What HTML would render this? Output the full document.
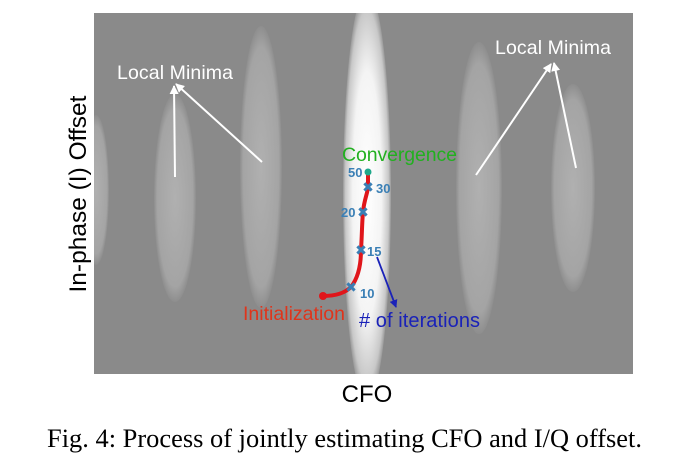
<!DOCTYPE html>
<html><head><style>
body{margin:0;background:#fff;width:700px;height:469px;overflow:hidden}
</style></head><body>
<svg width="700" height="469" viewBox="0 0 700 469" xmlns="http://www.w3.org/2000/svg" style="position:absolute;left:0;top:0">
<defs>
<radialGradient id="g" cx="50%" cy="50%" r="50%">
<stop offset="0" stop-color="#b0b0b0"/><stop offset="0.85" stop-color="#a4a4a4"/><stop offset="1" stop-color="#8e8e8e"/>
</radialGradient>
<radialGradient id="w" cx="50%" cy="50%" r="50%">
<stop offset="0" stop-color="#ffffff"/><stop offset="0.6" stop-color="#f4f4f4"/><stop offset="0.9" stop-color="#c8c8c8"/><stop offset="1" stop-color="#999"/>
</radialGradient>
<clipPath id="c"><rect x="94" y="13" width="539" height="361"/></clipPath>
<marker id="aw" markerWidth="9" markerHeight="9" refX="8" refY="4.5" orient="auto" markerUnits="userSpaceOnUse"><path d="M0,0 L9,4.5 L0,9 z" fill="#fff"/></marker>
<marker id="ab" markerWidth="8" markerHeight="8" refX="7" refY="4" orient="auto" markerUnits="userSpaceOnUse"><path d="M0,0 L8,4 L0,8 z" fill="#1a22b8"/></marker>
</defs>
<rect x="94" y="13" width="539" height="361" fill="#8a8a8a"/>
<g clip-path="url(#c)">
<ellipse cx="96" cy="190" rx="13" ry="75" fill="url(#g)"/>
<ellipse cx="175" cy="198" rx="21" ry="104" fill="url(#g)"/>
<ellipse cx="261" cy="167" rx="21" ry="141" fill="url(#g)"/>
<ellipse cx="367" cy="195" rx="24" ry="205" fill="url(#w)"/>
<ellipse cx="479" cy="188" rx="23" ry="146" fill="url(#g)"/>
<ellipse cx="573" cy="188" rx="22" ry="104" fill="url(#g)"/>
</g>
<g font-family="Liberation Sans, sans-serif">
<text x="117" y="79" font-size="19.5" fill="#fff" textLength="116">Local Minima</text>
<text x="495" y="54" font-size="19.5" fill="#fff" textLength="116">Local Minima</text>
<g stroke="#fff" stroke-width="2" fill="none">
<line x1="175" y1="177" x2="174" y2="86" marker-end="url(#aw)"/>
<line x1="262" y1="162" x2="176" y2="84" marker-end="url(#aw)"/>
<line x1="476" y1="175" x2="551" y2="64" marker-end="url(#aw)"/>
<line x1="576" y1="168" x2="554" y2="63" marker-end="url(#aw)"/>
</g>
<path d="M323,296 C335,296 345,293 351,287 C358,278 361,265 361,250 C362,235 362,222 363,212 C364,200 368,192 368,187 L368,172" stroke="#e0161b" stroke-width="4" fill="none"/>
<circle cx="323" cy="296" r="4" fill="#e0161b"/>
<circle cx="368" cy="172" r="3.5" fill="#1fa88a"/>
<g fill="#3a7fb5" font-size="13" font-weight="bold">
<text x="368" y="192" font-family="DejaVu Sans,sans-serif" text-anchor="middle" font-size="14">✖</text>
<text x="363" y="217" font-family="DejaVu Sans,sans-serif" text-anchor="middle" font-size="14">✖</text>
<text x="361" y="255" font-family="DejaVu Sans,sans-serif" text-anchor="middle" font-size="14">✖</text>
<text x="351" y="292" font-family="DejaVu Sans,sans-serif" text-anchor="middle" font-size="14">✖</text>
<text x="348" y="177">50</text>
<text x="376" y="193">30</text>
<text x="341" y="217">20</text>
<text x="367" y="256">15</text>
<text x="360" y="298">10</text>
</g>
<text x="342" y="161" font-size="19.5" fill="#22b020" textLength="115">Convergence</text>
<line x1="377" y1="257" x2="396" y2="307" stroke="#1a22b8" stroke-width="1.8" marker-end="url(#ab)"/>
<text x="359" y="327" font-size="20" fill="#1a22b8" textLength="121"># of iterations</text>
<text x="243" y="320" font-size="19.5" fill="#e0341b" textLength="102">Initialization</text>
<text x="367" y="402" font-size="24" text-anchor="middle" fill="#000">CFO</text>
<text transform="translate(86,194) rotate(-90)" font-size="24.5" text-anchor="middle" fill="#000">In-phase (I) Offset</text>
</g>
<text x="47" y="447" font-family="Liberation Serif, serif" font-size="26.4" fill="#000" textLength="595">Fig. 4: Process of jointly estimating CFO and I/Q offset.</text>
</svg>
</body></html>
